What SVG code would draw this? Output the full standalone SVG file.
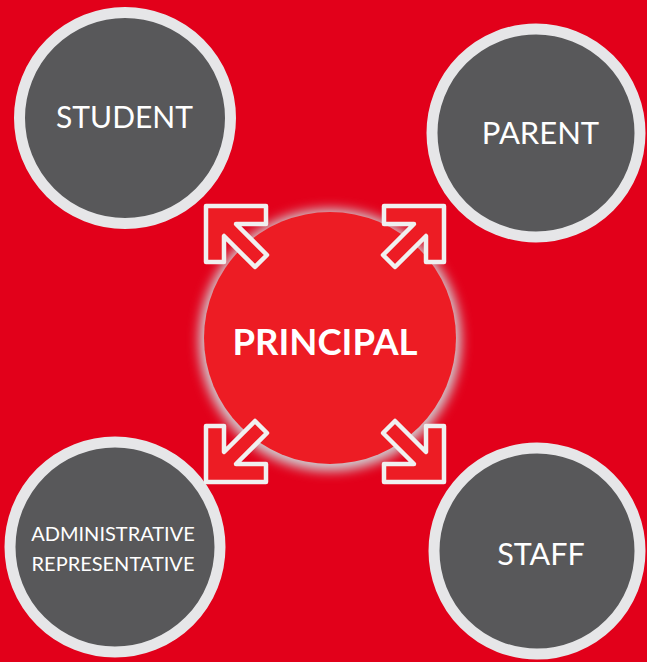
<svg xmlns="http://www.w3.org/2000/svg" width="647" height="662" viewBox="0 0 647 662">
<style>
.node{fill:#58585a;stroke:#e6e6e8;stroke-width:11}
.lbl{font-family:Lato,"Open Sans","Liberation Sans",sans-serif;fill:#ffffff;text-anchor:middle}
.arw{fill:#ed1c24;stroke:#f0f0f0;stroke-width:4.5;stroke-linejoin:round}
</style>
<defs>
<filter id="glow" x="-20%" y="-20%" width="140%" height="140%">
<feGaussianBlur stdDeviation="6"/>
</filter>
<path id="arrow" d="M0,0 H60 V18 H30 L61,49 L49,61 L18,30 V56 H0 Z"/>
</defs>
<rect width="647" height="662" fill="#e2001a"/>
<g id="student"><circle class="node" cx="125" cy="118" r="105.5"/><text class="lbl" x="124.5" y="128" font-size="30">STUDENT</text></g>
<g id="parent"><circle class="node" cx="536" cy="133" r="104"/><text class="lbl" x="540.5" y="144" font-size="31">PARENT</text></g>
<g id="admin"><circle class="node" cx="115" cy="547" r="105"/><text class="lbl" x="113" y="541" font-size="20">ADMINISTRATIVE</text><text class="lbl" x="113" y="571" font-size="20">REPRESENTATIVE</text></g>
<g id="staff"><circle class="node" cx="537" cy="551" r="103"/><text class="lbl" x="541" y="565" font-size="30.5">STAFF</text></g>
<g id="principal">
<circle cx="330" cy="340" r="131" fill="#cfcfd3" filter="url(#glow)"/>
<circle cx="330" cy="338" r="126" fill="#ed1c24"/>
<text class="lbl" x="325" y="355" font-size="36.5" font-weight="bold">PRINCIPAL</text>
</g>
<g id="connectors">
<use href="#arrow" class="arw" transform="translate(206,206)"/>
<use href="#arrow" class="arw" transform="translate(444,206) scale(-1,1)"/>
<use href="#arrow" class="arw" transform="translate(206,482) scale(1,-1)"/>
<use href="#arrow" class="arw" transform="translate(444,482) scale(-1,-1)"/>
</g>
</svg>
